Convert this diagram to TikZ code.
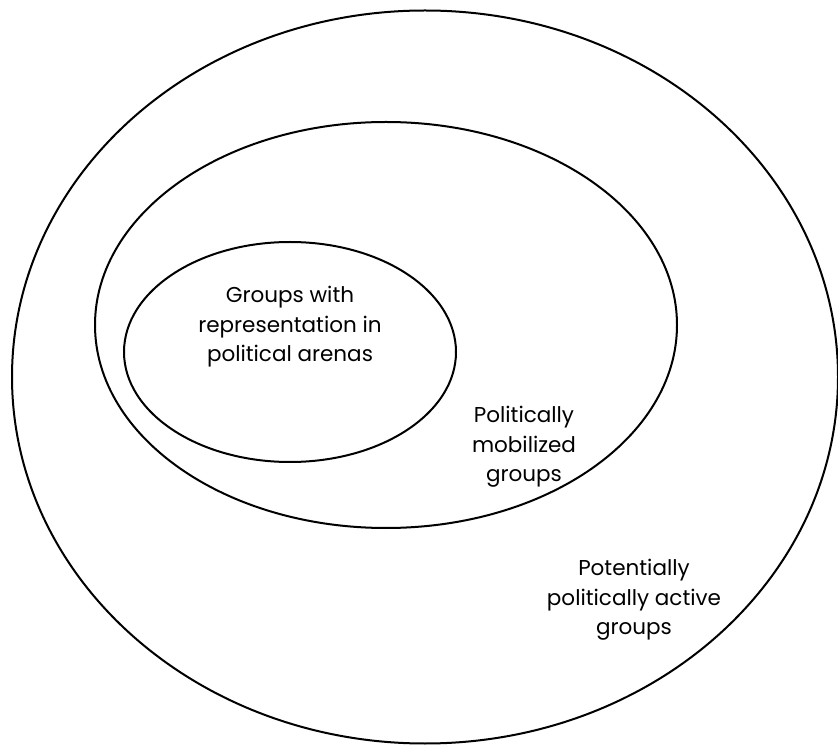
\documentclass[tikz,border=0pt]{standalone}
\usepackage{fontspec}
\setmainfont{Poppins}
\usetikzlibrary{shapes,positioning}

\begin{document}
\begin{tikzpicture}[x=1pt, y=1pt,
    ring/.style={ellipse, draw, line width=2pt, inner sep=0pt},
    label/.style={align=center, font=\fontsize{21.5}{29.5}\selectfont}]
    \useasboundingbox (0,0) rectangle (838,745);
    \node[ring, minimum width=826, minimum height=733] (potential) at (425,368) {};
    \node[ring, minimum width=582, minimum height=406] (mobilized) at (386,420) {};
    \node[ring, minimum width=332, minimum height=220] (represented) at (290,393) {};
    \node[label] (reptext) at (290,418) {Groups with\\representation in\\political arenas};
    \node[label] (mobtext) at (524,298) {Politically\\mobilized\\groups};
    \node[label] (pottext) at (634,145) {Potentially\\politically active\\groups};
\end{tikzpicture}
\end{document}
